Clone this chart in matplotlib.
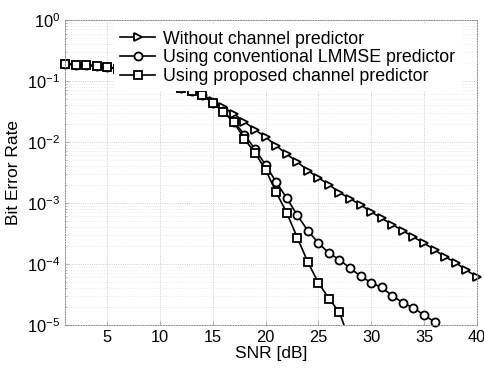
import numpy as np
import matplotlib
matplotlib.use('Agg')
import matplotlib.pyplot as plt

plt.rcParams['font.family'] = ['Liberation Sans', 'DejaVu Sans']
plt.rcParams['mathtext.fontset'] = 'custom'
plt.rcParams['mathtext.rm'] = 'Liberation Sans'
plt.rcParams['mathtext.it'] = 'Liberation Sans:italic'
plt.rcParams['mathtext.bf'] = 'Liberation Sans:bold'

# SNR points [dB]
snr_no_pred = np.arange(1, 41)
snr_lmmse = np.arange(1, 37)
snr_proposed = np.arange(1, 29)

# BER (low SNR part is the same for all three curves)
ber_low = [0.191, 0.186, 0.182, 0.176, 0.170, 0.158, 0.148, 0.135, 0.120, 0.107,
           0.0912, 0.0776, 0.0676]  # SNR 1..13

ber_no_pred = ber_low + [0.0589, 0.0468, 0.0372, 0.0288, 0.0214, 0.0158, 0.0120,
                         8.7e-3, 6.3e-3, 4.7e-3, 3.4e-3, 2.57e-3, 2.0e-3, 1.48e-3,
                         1.17e-3, 9.3e-4, 7.1e-4, 5.6e-4, 4.4e-4, 3.5e-4, 2.75e-4,
                         2.2e-4, 1.7e-4, 1.3e-4, 1.05e-4, 7.9e-5, 6.2e-5]
ber_lmmse = ber_low + [0.0589, 0.0437, 0.0316, 0.0214, 0.0132, 7.6e-3, 4.2e-3,
                       2.2e-3, 1.2e-3, 6.3e-4, 3.5e-4, 2.2e-4, 1.5e-4, 1.17e-4,
                       8.5e-5, 6.3e-5, 4.9e-5, 4.1e-5, 3.0e-5, 2.3e-5, 1.9e-5,
                       1.45e-5, 1.12e-5]
ber_proposed = ber_low + [0.0589, 0.0437, 0.0309, 0.0209, 0.0112, 6.6e-3, 3.5e-3,
                          1.5e-3, 6.9e-4, 2.7e-4, 1.07e-4, 4.9e-5, 2.7e-5, 1.6e-5,
                          5.2e-6]

labels = ['Without channel predictor',
          'Using conventional LMMSE predictor',
          'Using proposed channel predictor']

fs = 11.8      # tick labels
fs_lab = 12.5  # axis labels
fs_leg = 12.8  # legend

fig = plt.figure(figsize=(4.85, 3.7), dpi=100)
ax = fig.add_axes([0.134, 0.122, 0.849, 0.824])

style = dict(color='black', lw=1.2, mfc='white', mec='black', mew=1.3, ms=5.8)
ax.semilogy(snr_no_pred, ber_no_pred, marker='>', clip_on=False,
            label=labels[0], **style)
ax.semilogy(snr_lmmse, ber_lmmse, marker='o', clip_on=False,
            label=labels[1], **style)
ax.semilogy(snr_proposed, ber_proposed, marker='s',
            label=labels[2], **style)
# first square sits on the left edge, keep it whole
ax.semilogy(snr_proposed[:1], ber_proposed[:1], marker='s', ls='none',
            clip_on=False, **style)

ax.set_xlim(1, 40)
ax.set_ylim(1e-5, 1)
ax.set_xticks([5, 10, 15, 20, 25, 30, 35, 40])
ax.tick_params(axis='both', which='both', direction='in', labelsize=fs,
               color='0.7', length=3)
ax.tick_params(axis='y', which='minor', length=1.5)
ax.grid(True, which='major', ls=':', lw=0.6, color='0.75')
ax.grid(True, which='minor', axis='y', ls=':', lw=0.5, color='0.88')
for s in ax.spines.values():
    s.set_color('0.55')
    s.set_linestyle(':')
    s.set_linewidth(0.7)

ax.set_xlabel('SNR [dB]', fontsize=fs_lab, labelpad=1)
ax.set_ylabel('Bit Error Rate', fontsize=fs_lab, labelpad=4)

leg = ax.legend(loc='upper left', bbox_to_anchor=(0.235, 0.934),
                bbox_transform=fig.transFigure, fontsize=fs_leg,
                handlelength=1.97, handletextpad=0.45, labelspacing=0.1,
                borderpad=0.35, borderaxespad=0, frameon=True, fancybox=False,
                framealpha=1)
leg.get_frame().set_edgecolor('none')
leg.get_frame().set_facecolor('white')

fig.savefig('out.png', dpi=100)
